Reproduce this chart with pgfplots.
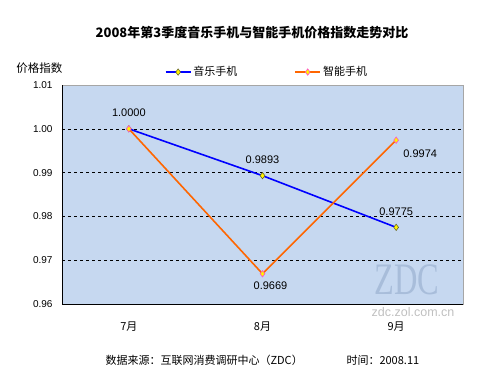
\documentclass[border=0pt]{standalone}
\usepackage{pgfplots}
\pgfplotsset{compat=1.18}
\usetikzlibrary{calc}
\usepackage{fontspec}
\setmainfont{Liberation Sans}
\newfontfamily\cjk{Noto Sans CJK SC}
\newfontfamily\serifwm{Liberation Serif}
\definecolor{plotbg}{RGB}{198,216,240}
\definecolor{musicblue}{RGB}{0,0,255}
\definecolor{smartorange}{RGB}{255,102,0}
\definecolor{mkedge}{RGB}{90,90,40}
\definecolor{mkpink}{RGB}{255,80,200}
\definecolor{wmblue}{RGB}{168,189,218}
\definecolor{wmgray}{RGB}{192,192,192}
\begin{document}
\begin{tikzpicture}
\begin{axis}[
  name=ax, at={(0pt,0pt)}, anchor=south west,
  scale only axis, width=401pt, height=219pt,
  xmin=-0.5, xmax=2.5, ymin=0.96, ymax=1.01,
  xtick={0,1,2}, xticklabels={{\cjk 7月},{\cjk 8月},{\cjk 9月}},
  major x tick style={draw=none},
  extra x ticks={0.5,1.5,2.5}, extra x tick labels={},
  extra x tick style={major tick length=3.5pt, tick style={black}},
  ytick={0.96,0.97,0.98,0.99,1.00,1.01},
  yticklabel style={/pgf/number format/fixed, /pgf/number format/fixed zerofill, /pgf/number format/precision=2},
  /pgf/number format/assume math mode=true,
  major y tick style={draw=none},
  tick label style={font=\fontsize{10}{12}\selectfont, text=black},
  xticklabel style={yshift=-14pt, font=\fontsize{11}{13}\selectfont},
  yticklabel style={xshift=-6pt},
  axis background/.style={fill=plotbg},
  axis line style={gray!70},
  tick align=inside,
  clip=false,
  legend style={at={(0.511,1.059)}, anchor=center, draw=none, fill=none,
    font=\cjk\fontsize{11}{13}\selectfont,
    /tikz/every even column/.append style={column sep=55pt}},
  legend columns=2,
  legend image code/.code={
    \draw[#1, mark repeat=2, mark phase=2] plot coordinates {(0pt,0pt) (12.5pt,0pt) (25pt,0pt)};
  },
]
\draw[black, dashed, thin] (axis cs:-0.5,0.97) -- (axis cs:2.5,0.97);
\draw[black, dashed, thin] (axis cs:-0.5,0.98) -- (axis cs:2.5,0.98);
\draw[black, dashed, thin] (axis cs:-0.5,0.99) -- (axis cs:2.5,0.99);
\draw[black, dashed, thin] (axis cs:-0.5,1.00) -- (axis cs:2.5,1.00);
\node[text=wmblue, font=\serifwm\fontsize{45}{45}\selectfont, anchor=base, xscale=0.72, inner sep=0pt] at (rel axis cs:0.86,0.045) {ZDC};
\node[text=wmgray, font=\fontsize{12.5}{14}\selectfont, anchor=base, inner sep=0pt] at (rel axis cs:0.8755,-0.058) {zdc.zol.com.cn};
\addplot[musicblue, line width=1.6pt, mark=diamond*, mark size=3.2pt,
  mark options={fill=yellow, draw=mkedge, line width=0.5pt}]
  coordinates {(0,1.0000) (1,0.9893) (2,0.9775)};
\addlegendentry{音乐手机}
\addplot[smartorange, line width=1.6pt, mark=diamond*, mark size=3.2pt,
  mark options={fill=yellow, draw=mkpink, line width=0.6pt}]
  coordinates {(0,1.0000) (1,0.9669) (2,0.9974)};
\addlegendentry{智能手机}
\draw[black, line width=0.6pt] (rel axis cs:0,1) -- (rel axis cs:0,0) -- (rel axis cs:1,0);
\node[font=\fontsize{11}{13}\selectfont] at (axis cs:0,1.0000) [yshift=16pt] {1.0000};
\node[font=\fontsize{11}{13}\selectfont] at (axis cs:1,0.9893) [yshift=16pt] {0.9893};
\node[font=\fontsize{11}{13}\selectfont] at (axis cs:2,0.9775) [yshift=16pt] {0.9775};
\node[font=\fontsize{11}{13}\selectfont] at (axis cs:2,0.9974) [xshift=24pt, yshift=-14pt] {0.9974};
\node[font=\fontsize{11}{13}\selectfont] at (axis cs:1,0.9669) [xshift=8pt, yshift=-12pt] {0.9669};
\end{axis}
\coordinate (O) at ($(ax.south west)+(-62pt,-71pt)$);
\node[font=\cjk\bfseries\fontsize{13}{15}\selectfont] at ($(O)+(252pt,342pt)$) {2008年第3季度音乐手机与智能手机价格指数走势对比};
\node[font=\cjk\fontsize{11.5}{13}\selectfont] at ($(O)+(39.5pt,307pt)$) {价格指数};
\node[font=\cjk\fontsize{11}{13}\selectfont, anchor=west] at ($(O)+(102pt,15pt)$) {数据来源：互联网消费调研中心（ZDC）};
\node[font=\cjk\fontsize{11}{13}\selectfont, anchor=west] at ($(O)+(343pt,15pt)$) {时间：2008.11};
\pgfresetboundingbox
\path[use as bounding box] (O) rectangle ($(O)+(500pt,375pt)$);
\end{tikzpicture}
\end{document}
